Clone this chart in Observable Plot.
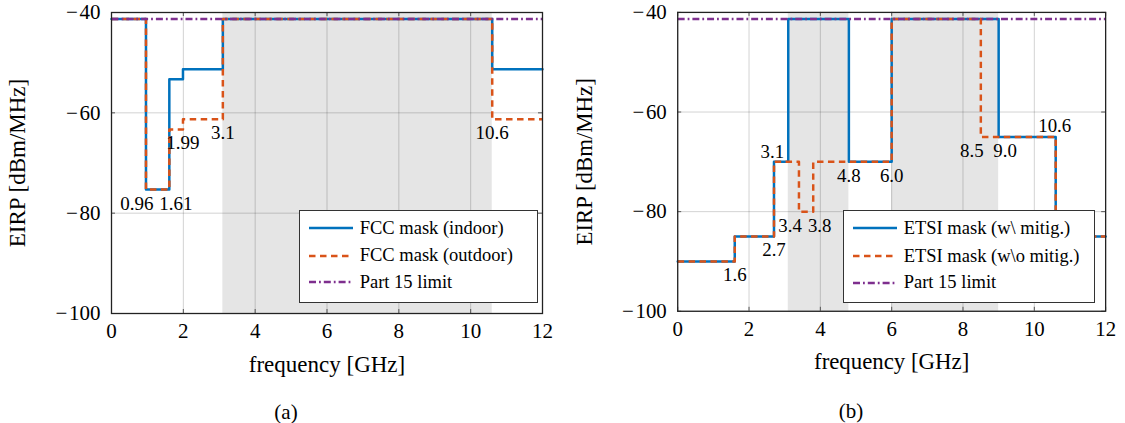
<!DOCTYPE html>
<html>
<head>
<meta charset="utf-8">
<script src="https://cdn.jsdelivr.net/npm/d3@7"></script>
<script src="https://cdn.jsdelivr.net/npm/@observablehq/plot@0.6"></script>
<style>
  html, body { margin: 0; padding: 0; background: #fff; }
  #fig { position: relative; width: 1125px; height: 423px; font-family: "Liberation Serif", "Times New Roman", serif; color: #000; }
  #fig svg, #fig svg text { font-family: "Liberation Serif", "Times New Roman", serif !important; }
  #fig svg g[aria-label="x-axis label"], #fig svg g[aria-label="y-axis label"] { font-size: 23px !important; }
  #fig svg g[aria-label="x-axis label"] text, #fig svg g[aria-label="y-axis label"] text { font-size: 23px !important; }
  .panel { position: absolute; top: 0; }
  .legend { position: absolute; box-sizing: border-box; border: 1.3px solid #333; background: #fff; }
  .row { position: absolute; left: 0; height: 24px; display: flex; align-items: center; font-size: 18.5px; white-space: nowrap; }
  .row svg { display: block; }
  .caption { position: absolute; font-size: 21px; transform: translate(-50%, -50%); }
</style>
</head>
<body>
<div id="fig">
  <div id="pa" class="panel" style="left:0px"></div>
  <div id="pb" class="panel" style="left:567px"></div>
</div>
<script>
// ---------- data ----------
const xDomain = [0, 12];
const yDomain = [-100, -40];
const xTicks = [0, 2, 4, 6, 8, 10, 12];
const yTicks = [-100, -80, -60, -40];

const part15Freq = [0, 12];
const part15Level = [-41.3];

// (a) FCC
const fccFreq = [0, 0.96, 1.61, 1.99, 3.1, 10.6, 12];
const fccIndoor = [-41.3, -75.3, -53.3, -51.3, -41.3, -51.3];
const fccOutdoor = [-41.3, -75.3, -63.3, -61.3, -41.3, -61.3];
const fccShadeStart = [3.1];
const fccShadeEnd = [10.6];
const fccLabelText = ["0.96", "1.61", "1.99", "3.1", "10.6"];
const fccLabelX = [0.96, 1.61, 1.99, 3.1, 10.6];
const fccLabelY = [-75.3, -75.3, -63.3, -61.3, -61.3];
const fccLabelPos = ["below left", "below right", "below", "below", "below"];
const fccLegend = ["FCC mask (indoor)", "FCC mask (outdoor)", "Part 15 limit"];

// (b) ETSI
const etsiFreqW = [0, 1.6, 2.7, 3.1, 4.8, 6.0, 9.0, 10.6, 12];
const etsiLevelW = [-90, -85, -70, -41.3, -70, -41.3, -65, -85];
const etsiFreqWo = [0, 1.6, 2.7, 3.4, 3.8, 6.0, 8.5, 10.6, 12];
const etsiLevelWo = [-90, -85, -70, -80, -70, -41.3, -65, -85];
const etsiShadeStart = [3.1, 6.0];
const etsiShadeEnd = [4.8, 9.0];
const etsiLabelText = ["1.6", "2.7", "3.1", "3.4", "3.8", "4.8", "6.0", "8.5", "9.0", "10.6"];
const etsiLabelX = [1.6, 2.7, 3.1, 3.4, 3.8, 4.8, 6.0, 8.5, 9.0, 10.6];
const etsiLabelY = [-90, -85, -70, -80, -80, -70, -70, -65, -65, -65];
const etsiLabelPos = ["below", "below", "above left", "below left", "below right", "below", "below", "below left", "below right", "above"];
const etsiLegend = ["ETSI mask (w\\ mitig.)", "ETSI mask (w\\o mitig.)", "Part 15 limit"];

const captions = ["(a)", "(b)"];

// ---------- styles ----------
const FONT = "'Liberation Serif', 'Times New Roman', serif";
const COLORS = ["#0072BD", "#D95319", "#7E2F8E"];
const DASHES = [null, "6.5,4.5", "7,3,1.8,3"];
const WIDTH = 2.5;
const OFFSETS = {
  "below": [0, 14], "below left": [-9, 14], "below right": [6.5, 14],
  "above left": [-16, -10], "above": [-1, -11]
};

function steps(freq, levels) {
  return freq.map((f, i) => ({x: f, y: levels[Math.min(i, levels.length - 1)]}));
}
const fmt = d => (d < 0 ? "\u2212\u200A" + Math.abs(d) : String(d));

function panel({seriesA, seriesB, shadeStart, shadeEnd, labelText, labelX, labelY, labelPos}) {
  const shade = shadeStart.map((s, i) => ({x1: s, x2: shadeEnd[i]}));
  const labels = labelText.map((t, i) => ({t, x: labelX[i], y: labelY[i], p: labelPos[i]}));
  const part15 = steps(part15Freq, part15Level);
  const plotH = 390 - 12 - 77, plotW = 562 - 111 - 20;
  const tickLen = 4;
  const textMarks = Object.keys(OFFSETS).map(p =>
    Plot.text(labels.filter(d => d.p === p), {
      x: "x", y: "y", text: "t", dx: OFFSETS[p][0], dy: OFFSETS[p][1],
      fontSize: 19, fontFamily: FONT, fill: "#000"
    }));
  return Plot.plot({
    width: 562, height: 390,
    marginLeft: 111, marginRight: 20, marginTop: 12, marginBottom: 77,
    style: {fontFamily: FONT, fontSize: "20px", color: "#000", background: "transparent", overflow: "visible"},
    x: {domain: xDomain},
    y: {domain: yDomain},
    marks: [
      Plot.rect(shade, {x1: "x1", x2: "x2", y1: () => yDomain[0], y2: () => yDomain[1], fill: "#e5e5e5"}),
      Plot.gridX(xTicks, {stroke: "#000", strokeOpacity: 0.18, strokeWidth: 1}),
      Plot.gridY(yTicks, {stroke: "#000", strokeOpacity: 0.18, strokeWidth: 1}),
      Plot.tickX(xTicks, {x: d => d, insetTop: plotH - tickLen, stroke: "#555", strokeWidth: 1}),
      Plot.tickX(xTicks, {x: d => d, insetBottom: plotH - tickLen, stroke: "#555", strokeWidth: 1}),
      Plot.tickY(yTicks, {y: d => d, insetRight: plotW - tickLen, stroke: "#555", strokeWidth: 1}),
      Plot.tickY(yTicks, {y: d => d, insetLeft: plotW - tickLen, stroke: "#555", strokeWidth: 1}),
      Plot.axisX(xTicks, {tickSize: 0, tickPadding: 10, fontSize: 21, fontFamily: FONT,
        label: "frequency [GHz]", labelAnchor: "center", labelOffset: 58, labelArrow: "none"}),
      Plot.axisY(yTicks, {tickSize: 0, tickPadding: 11, fontSize: 21, fontFamily: FONT, tickFormat: fmt,
        label: "EIRP [dBm/MHz]", labelAnchor: "center", labelOffset: 103, labelArrow: "none"}),
      Plot.line(seriesA, {x: "x", y: "y", curve: "step-after", stroke: COLORS[0], strokeWidth: WIDTH}),
      Plot.line(seriesB, {x: "x", y: "y", curve: "step-after", stroke: COLORS[1], strokeWidth: WIDTH, strokeDasharray: DASHES[1], strokeLinecap: "butt"}),
      Plot.line(part15, {x: "x", y: "y", stroke: COLORS[2], strokeWidth: WIDTH, strokeDasharray: DASHES[2], strokeLinecap: "butt"}),
      ...textMarks,
      Plot.frame({stroke: "#222", strokeWidth: 1.3})
    ]
  });
}

function legend(entries, box, sampleLeft, rowsY) {
  const div = document.createElement("div");
  div.className = "legend";
  Object.assign(div.style, {left: box[0] + "px", top: box[1] + "px", width: box[2] + "px", height: box[3] + "px"});
  entries.forEach((label, i) => {
    const row = document.createElement("div");
    row.className = "row";
    row.style.top = (rowsY[i] - box[1] - 12 - 1.3) + "px";
    row.style.left = (sampleLeft - box[0] - 1.3) + "px";
    const dash = DASHES[i] ? `stroke-dasharray="${DASHES[i]}"` : "";
    row.innerHTML = `<svg width="44" height="24"><line x1="0" x2="44" y1="12" y2="12" stroke="${COLORS[i]}" stroke-width="${WIDTH}" ${dash}/></svg><span style="margin-left:7px">${label.replace(/\\/g, "&#92;")}</span>`;
    div.appendChild(row);
  });
  return div;
}

const fig = document.getElementById("fig");
document.getElementById("pa").appendChild(panel({
  seriesA: steps(fccFreq, fccIndoor), seriesB: steps(fccFreq, fccOutdoor),
  shadeStart: fccShadeStart, shadeEnd: fccShadeEnd,
  labelText: fccLabelText, labelX: fccLabelX, labelY: fccLabelY, labelPos: fccLabelPos
}));
document.getElementById("pb").appendChild(panel({
  seriesA: steps(etsiFreqW, etsiLevelW), seriesB: steps(etsiFreqWo, etsiLevelWo),
  shadeStart: etsiShadeStart, shadeEnd: etsiShadeEnd,
  labelText: etsiLabelText, labelX: etsiLabelX, labelY: etsiLabelY, labelPos: etsiLabelPos
}));
fig.appendChild(legend(fccLegend, [299, 210, 239, 93], 309, [228.7, 256, 282.7]));
fig.appendChild(legend(etsiLegend, [843, 210, 252, 93], 853, [228.5, 256.5, 283.2]));

[[286, 412], [851, 411]].forEach((p, i) => {
  const c = document.createElement("div");
  c.className = "caption";
  c.textContent = captions[i];
  c.style.left = p[0] + "px";
  c.style.top = p[1] + "px";
  fig.appendChild(c);
});
</script>
</body>
</html>
